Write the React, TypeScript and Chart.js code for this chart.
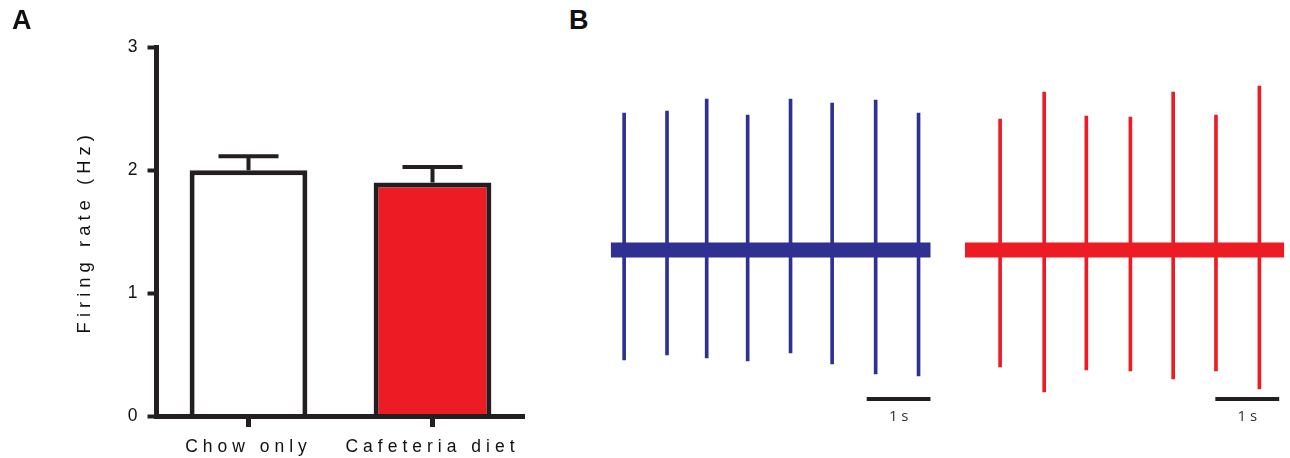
import React, { useEffect, useRef } from "react";
import { Chart, registerables } from "chart.js";

Chart.register(...registerables);

// ---------- Panel A data ----------
const groups = ["Chow only", "Cafeteria diet"];
const firingRate = [2.0, 1.9];
const firingSem = [0.115, 0.127];
const barFill = ["#ffffff", "#ED1C24"];
const yAxisMin = 0;
const yAxisMax = 3;
const yAxisStep = 1;
const yAxisTitle = "Firing rate (Hz)";

// ---------- Panel B data (spike amplitudes in µV, times in s) ----------
const traceDuration = 5;
const chowSpikeTimes = [0.21, 0.88, 1.5, 2.14, 2.81, 3.46, 4.14, 4.81];
const chowSpikeUp = [137, 139, 151, 135, 151, 147, 150, 137];
const chowSpikeDown = [110, 105, 108, 111, 103, 114, 124, 126];
const cafSpikeTimes = [0.55, 1.24, 1.9, 2.59, 3.26, 3.93, 4.61];
const cafSpikeUp = [131, 158, 134, 133, 158, 135, 164];
const cafSpikeDown = [117, 142, 120, 121, 129, 121, 139];
const scaleBarLength = 1;
const scaleBarLabel = "1 s";
const chowScaleBarStart = 4.0;
const cafScaleBarStart = 3.92;
const scaleBarLevel = -149;

const INK = "#231f20";
const BLUE = "#2E3192";
const RED = "#ED1C24";
const FONT = '"Liberation Sans", Arial, sans-serif';

const spacingPlugin = {
  id: "letterSpacing",
  beforeLayout(chart: any) {
    chart.ctx.letterSpacing = "5px";
  },
  beforeDraw(chart: any) {
    chart.ctx.letterSpacing = "5px";
  },
};

const errorBarPlugin = {
  id: "errorBars",
  afterDatasetsDraw(chart: any) {
    const { ctx } = chart;
    const x = chart.scales.x;
    const y = chart.scales.y;
    ctx.save();
    ctx.strokeStyle = INK;
    ctx.lineWidth = 4;
    ctx.lineCap = "butt";
    firingRate.forEach((m, i) => {
      const px = x.getPixelForValue(i);
      const yTop = y.getPixelForValue(m + firingSem[i]);
      const yBar = y.getPixelForValue(m);
      ctx.beginPath();
      ctx.moveTo(px, yBar);
      ctx.lineTo(px, yTop - 2);
      ctx.moveTo(px - 30, yTop);
      ctx.lineTo(px + 30, yTop);
      ctx.stroke();
    });
    ctx.restore();
  },
};

function BarPanel() {
  const ref = useRef<HTMLCanvasElement>(null);
  useEffect(() => {
    const chart = new Chart(ref.current as HTMLCanvasElement, {
      type: "bar",
      data: {
        labels: groups,
        datasets: [
          {
            data: firingRate,
            backgroundColor: barFill,
            borderColor: INK,
            borderWidth: 5,
            barPercentage: 0.64,
            categoryPercentage: 1,
          },
        ],
      },
      options: {
        responsive: false,
        animation: false,
        layout: { padding: { top: 47.5, right: 35.5, bottom: 0, left: 0 } },
        plugins: { legend: { display: false }, tooltip: { enabled: false } },
        scales: {
          x: {
            type: "category",
            offset: true,
            grid: {
              display: true,
              offset: false,
              drawOnChartArea: false,
              drawTicks: true,
              tickLength: 11,
              tickWidth: 5,
              tickColor: INK,
            },
            border: { display: true, width: 5, color: INK, z: 1 },
            ticks: {
              color: "#111",
              font: { size: 17.5, family: FONT },
              padding: 10,
              maxRotation: 0,
              autoSkip: false,
            },
            afterFit: (s: any) => {
              s.height = 42;
            },
          },
          y: {
            type: "linear",
            min: yAxisMin,
            max: yAxisMax,
            ticks: {
              stepSize: yAxisStep,
              color: "#111",
              font: { size: 17.5, family: FONT },
              padding: 5,
            },
            grid: {
              display: true,
              drawOnChartArea: false,
              drawTicks: true,
              tickLength: 9,
              tickWidth: 4,
              tickColor: INK,
            },
            border: { display: true, width: 5, color: INK, z: 1 },
            title: {
              display: true,
              text: yAxisTitle,
              color: "#111",
              font: { size: 18.5, family: FONT },
              padding: { top: 74, bottom: 0 },
            },
            afterFit: (s: any) => {
              s.width = 156.5;
            },
          },
        },
      } as any,
      plugins: [spacingPlugin, errorBarPlugin],
    });
    return () => chart.destroy();
  }, []);
  return (
    <canvas
      ref={ref}
      width={560}
      height={458}
      style={{ position: "absolute", left: 0, top: 0, width: 560, height: 458 }}
    />
  );
}

type TraceProps = {
  times: number[];
  ups: number[];
  downs: number[];
  color: string;
  barStart: number;
  left: number;
  width: number;
  padLeft: number;
  padRight: number;
};

function TracePanel(p: TraceProps) {
  const ref = useRef<HTMLCanvasElement>(null);
  useEffect(() => {
    const labelPlugin = {
      id: "scaleBarLabel",
      afterDraw(chart: any) {
        const { ctx } = chart;
        const x = chart.scales.x.getPixelForValue(p.barStart + scaleBarLength / 2);
        const y = chart.scales.y.getPixelForValue(scaleBarLevel);
        ctx.save();
        ctx.letterSpacing = "0px";
        ctx.font = '15px "Open Sans", sans-serif';
        ctx.fillStyle = "#333333";
        ctx.textAlign = "center";
        ctx.textBaseline = "alphabetic";
        ctx.fillText(scaleBarLabel, x, y + 22);
        ctx.restore();
      },
    };
    const chart = new Chart(ref.current as HTMLCanvasElement, {
      type: "bar",
      data: {
        datasets: [
          {
            type: "line",
            data: [
              { x: 0, y: 0 },
              { x: traceDuration, y: 0 },
            ],
            borderColor: p.color,
            borderWidth: 15,
            pointRadius: 0,
            borderCapStyle: "butt",
          },
          {
            type: "bar",
            data: p.times.map((t, i) => ({ x: t, y: [-p.downs[i], p.ups[i]] })),
            backgroundColor: p.color,
            borderWidth: 0,
            barThickness: 3,
          },
          {
            type: "line",
            data: [
              { x: p.barStart, y: scaleBarLevel },
              { x: p.barStart + scaleBarLength, y: scaleBarLevel },
            ],
            borderColor: INK,
            borderWidth: 4,
            pointRadius: 0,
            borderCapStyle: "butt",
          },
        ],
      },
      options: {
        responsive: false,
        animation: false,
        layout: { padding: { left: p.padLeft, right: p.padRight, top: 70, bottom: 28 } },
        plugins: { legend: { display: false }, tooltip: { enabled: false } },
        scales: {
          x: { type: "linear", min: 0, max: traceDuration, display: false, offset: false },
          y: { type: "linear", min: -180, max: 180, display: false },
        },
      } as any,
      plugins: [labelPlugin],
    });
    return () => chart.destroy();
  }, []);
  return (
    <canvas
      ref={ref}
      width={p.width}
      height={458}
      style={{ position: "absolute", left: p.left, top: 0, width: p.width, height: 458 }}
    />
  );
}

const panelLetter: React.CSSProperties = {
  position: "absolute",
  top: 6.5,
  font: `bold 27px ${FONT}`,
  lineHeight: "27px",
  color: "#111",
};

export default function App() {
  return (
    <div
      style={{
        position: "absolute",
        left: 0,
        top: 0,
        width: 1290,
        height: 458,
        overflow: "hidden",
        background: "#fff",
      }}
    >
      <BarPanel />
      <TracePanel
        times={chowSpikeTimes}
        ups={chowSpikeUp}
        downs={chowSpikeDown}
        color={BLUE}
        barStart={chowScaleBarStart}
        left={600}
        width={345}
        padLeft={10.7}
        padRight={14.3}
      />
      <TracePanel
        times={cafSpikeTimes}
        ups={cafSpikeUp}
        downs={cafSpikeDown}
        color={RED}
        barStart={cafScaleBarStart}
        left={950}
        width={340}
        padLeft={15}
        padRight={5.7}
      />
      <div style={{ ...panelLetter, left: 12 }}>A</div>
      <div style={{ ...panelLetter, left: 569 }}>B</div>
    </div>
  );
}
